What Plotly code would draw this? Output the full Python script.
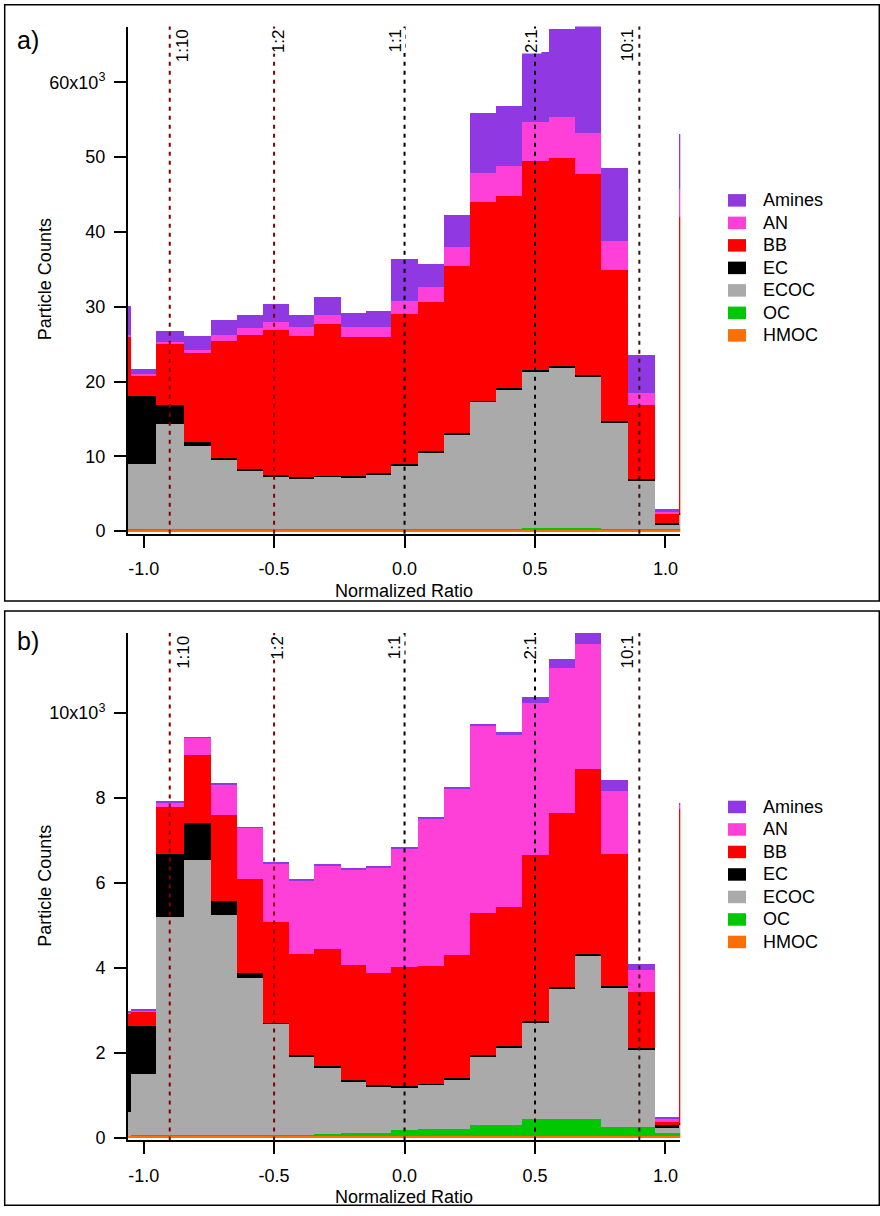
import plotly.graph_objects as go

W, H = 880, 1216
FONT = "Liberation Sans, Arial, Helvetica, sans-serif"

# ---------------- data (counts in units of 10^3) ----------------
# histogram bin edges of the normalized ratio (narrow edge slivers at both ends)
bin_edges = [-1.06, -1.048, -0.951, -0.845, -0.742, -0.641, -0.541, -0.443, -0.348,
             -0.244, -0.148, -0.051, 0.050, 0.152, 0.252, 0.352, 0.452, 0.552,
             0.652, 0.752, 0.858, 0.960, 1.053, 1.057]

species = ["HMOC", "OC", "ECOC", "EC", "BB", "AN", "Amines"]   # stacking order (bottom -> top)

# panel a)
hmoc_a = [0.25, 0.25, 0.25, 0.25, 0.25, 0.25, 0.25, 0.25, 0.25, 0.25, 0.25, 0.25, 0.25,
          0.25, 0.25, 0.25, 0.25, 0.25, 0.25, 0.25, 0.25, 0.25, 0.25]
oc_a = [0.05, 0.05, 0.05, 0.05, 0.05, 0.05, 0.05, 0.05, 0.05, 0.05, 0.05, 0.05, 0.05,
        0.05, 0.10, 0.10, 0.20, 0.20, 0.20, 0.10, 0.10, 0.10, 0.10]
ecoc_a = [8.70, 8.73, 14.04, 11.12, 9.35, 7.94, 7.10, 6.83, 7.06, 6.92, 7.36, 8.60, 10.28,
          12.70, 17.01, 18.65, 21.02, 21.51, 20.35, 14.22, 6.52, 0.67, 2.00]
ec_a = [9.10, 9.08, 2.58, 0.63, 0.23, 0.18, 0.22, 0.13, 0.13, 0.18, 0.18, 0.18, 0.18,
        0.20, 0.17, 0.18, 0.18, 0.18, 0.18, 0.17, 0.17, 0.18, 0.10]
bb_a = [7.90, 2.74, 8.18, 11.85, 15.62, 17.83, 19.30, 18.90, 20.23, 18.60, 18.16, 19.96, 19.88,
        22.30, 26.52, 25.67, 27.85, 27.76, 26.82, 20.19, 9.83, 1.19, 39.60]
an_a = [0.30, 0.23, 0.23, 0.40, 0.75, 1.02, 1.10, 1.16, 1.18, 1.40, 1.40, 1.86, 2.12,
        2.57, 3.85, 4.09, 5.30, 5.58, 5.50, 3.97, 1.68, 0.36, 3.80]
amines_a = [3.80, 0.66, 1.55, 1.90, 2.09, 1.63, 2.35, 1.68, 2.53, 1.78, 2.13, 5.58, 3.06,
            4.23, 8.10, 7.96, 9.34, 11.68, 14.26, 9.67, 5.05, 0.22, 7.30]

# panel b)
hmoc_b = [0.05, 0.05, 0.05, 0.05, 0.05, 0.05, 0.05, 0.05, 0.05, 0.05, 0.05, 0.05, 0.05,
          0.05, 0.05, 0.05, 0.05, 0.05, 0.05, 0.05, 0.05, 0.05, 0.05]
oc_b = [0.00, 0.02, 0.01, 0.01, 0.01, 0.01, 0.01, 0.02, 0.03, 0.07, 0.07, 0.13, 0.15,
        0.15, 0.24, 0.24, 0.39, 0.39, 0.39, 0.21, 0.19, 0.05, 0.05]
ecoc_b = [0.55, 1.42, 5.13, 6.47, 5.19, 3.71, 2.62, 1.84, 1.58, 1.21, 1.08, 1.00, 1.04,
          1.17, 1.62, 1.83, 2.26, 3.07, 3.85, 3.27, 1.83, 0.13, 0.20]
ec_b = [2.02, 1.13, 1.48, 0.87, 0.32, 0.11, 0.03, 0.03, 0.03, 0.03, 0.03, 0.03, 0.03,
        0.03, 0.03, 0.03, 0.04, 0.04, 0.04, 0.05, 0.03, 0.07, 0.05]
bb_b = [0.31, 0.36, 1.11, 1.61, 2.02, 2.21, 2.37, 2.39, 2.74, 2.70, 2.64, 2.80, 2.77,
        2.91, 3.36, 3.27, 3.92, 4.09, 4.36, 3.09, 1.32, 0.07, 7.38]
an_b = [0.02, 0.02, 0.12, 0.40, 0.73, 1.20, 1.38, 1.72, 1.98, 2.26, 2.48, 2.80, 3.46,
        3.92, 4.39, 4.07, 3.58, 3.42, 2.92, 1.48, 0.52, 0.07, 0.11]
amines_b = [0.02, 0.02, 0.03, 0.02, 0.02, 0.02, 0.03, 0.03, 0.03, 0.03, 0.03, 0.03, 0.05,
            0.03, 0.05, 0.07, 0.14, 0.21, 0.29, 0.28, 0.16, 0.03, 0.04]

ratio_pos = [-0.9, -0.5, 0.0, 0.5, 0.9]
ratio_labels = ["1:10", "1:2", "1:1", "2:1", "10:1"]

xtick_vals = [-1.0, -0.5, 0.0, 0.5, 1.0]
xtick_text = ["-1.0", "-0.5", "0.0", "0.5", "1.0"]
ytick_vals_a = [0, 10, 20, 30, 40, 50, 60]
ytick_text_a = ["0", "10", "20", "30", "40", "50", "60x10<sup>3</sup>"]
ytick_vals_b = [0, 2, 4, 6, 8, 10]
ytick_text_b = ["0", "2", "4", "6", "8", "10x10<sup>3</sup>"]

# ---------------- styles ----------------
colors = {"HMOC": "#FF6F00", "OC": "#00C800", "ECOC": "#AAAAAA", "EC": "#000000",
          "BB": "#FF0000", "AN": "#FF40D8", "Amines": "#9038E2"}
line_colors = ["#800000", "#800000", "#000000", "#000000", "#3C1212"]
label_shift = [13, 4, -10, -4, -12]


def py(p):
    return 1 - p / H


def pxx(p):
    return p / W


centers = [(a + b) / 2 for a, b in zip(bin_edges[:-1], bin_edges[1:])]
widths = [b - a for a, b in zip(bin_edges[:-1], bin_edges[1:])]

panels = [
    dict(x="x", y="y", data=dict(HMOC=hmoc_a, OC=oc_a, ECOC=ecoc_a, EC=ec_a, BB=bb_a, AN=an_a, Amines=amines_a),
         top=26.7, bottom=537.3, yr=[-0.345, 67.46], tv=ytick_vals_a, tt=ytick_text_a,
         label="a)", frame=(4.7, 605.0), legend_top=201.7, title_y=594.5, lab_y=40.5),
    dict(x="x2", y="y2", data=dict(HMOC=hmoc_b, OC=oc_b, ECOC=ecoc_b, EC=ec_b, BB=bb_b, AN=an_b, Amines=amines_b),
         top=637.3, bottom=1148.0, yr=[-0.063, 11.88], tv=ytick_vals_b, tt=ytick_text_b,
         label="b)", frame=(615.0, 1213.3), legend_top=812.3, title_y=1205.0, lab_y=645.5),
]

fig = go.Figure()
shapes = []
annotations = []

for p in panels:
    for sp in species:
        fig.add_trace(go.Bar(x=centers, y=p["data"][sp], width=widths, name=sp,
                             marker=dict(color=colors[sp], line=dict(width=0)),
                             xaxis=p["x"], yaxis=p["y"], showlegend=False))
    # reference ratio lines
    for xv, lab, lc, sh in zip(ratio_pos, ratio_labels, line_colors, label_shift):
        shapes.append(dict(type="line", xref=p["x"], yref=p["y"] + " domain", x0=xv, x1=xv, y0=0, y1=1,
                           line=dict(color=lc, width=2, dash="4px,5px"), layer="above"))
        annotations.append(dict(text=lab, xref=p["x"], yref=p["y"] + " domain", x=xv, y=1,
                                xanchor="center", yanchor="top", xshift=sh, yshift=-1.5,
                                textangle=-90, showarrow=False, bgcolor="white", borderpad=0,
                                font=dict(family=FONT, size=17, color="black")))
    # frame around the panel
    f0, f1 = p["frame"]
    shapes.append(dict(type="rect", xref="paper", yref="paper", x0=pxx(4.7), x1=pxx(879.3),
                       y0=py(f1), y1=py(f0), line=dict(color="black", width=1.5), layer="above"))
    # panel label
    annotations.append(dict(text=p["label"], xref="paper", yref="paper", x=pxx(15), y=py(p["lab_y"]),
                            xanchor="left", yanchor="middle", showarrow=False,
                            font=dict(family=FONT, size=25, color="black")))
    # axis titles
    annotations.append(dict(text="Particle Counts", xref="paper", yref="paper", x=pxx(45),
                            y=py((p["top"] + p["bottom"]) / 2 - 1), textangle=-90, showarrow=False,
                            xanchor="center", yanchor="middle",
                            font=dict(family=FONT, size=18, color="black")))
    annotations.append(dict(text="Normalized Ratio", xref="paper", yref="paper", x=pxx(404.3),
                            y=py(p["title_y"]), showarrow=False, xanchor="center", yanchor="middle",
                            font=dict(family=FONT, size=18, color="black")))
    # legend
    for i, sp in enumerate(reversed(species)):
        yc = p["legend_top"] + i * 22.65
        shapes.append(dict(type="rect", xref="paper", yref="paper", x0=pxx(728), x1=pxx(746),
                           y0=py(yc + 6.3), y1=py(yc - 6.3), fillcolor=colors[sp], line=dict(width=0)))
        annotations.append(dict(text=sp, xref="paper", yref="paper", x=pxx(761), y=py(yc),
                                xanchor="left", yanchor="middle", showarrow=False,
                                font=dict(family=FONT, size=18, color="black")))

axis_common = dict(showline=True, linecolor="black", linewidth=2, ticks="outside", ticklen=12,
                   tickwidth=2, tickcolor="black", showgrid=False, zeroline=False,
                   tickfont=dict(family=FONT, size=18, color="black"))

layout = dict(
    width=W, height=H, margin=dict(l=0, r=0, t=0, b=0),
    paper_bgcolor="white", plot_bgcolor="white", barmode="stack", bargap=0,
    showlegend=False, shapes=shapes, annotations=annotations,
    font=dict(family=FONT, size=18, color="black"),
)
for p, xa, ya in [(panels[0], "xaxis", "yaxis"), (panels[1], "xaxis2", "yaxis2")]:
    layout[xa] = dict(axis_common, domain=[pxx(128), pxx(680.3)], range=[-1.06, 1.057],
                      anchor=p["y"], tickvals=xtick_vals, ticktext=xtick_text, ticklabelstandoff=6)
    layout[ya] = dict(axis_common, domain=[py(p["bottom"]), py(p["top"])], range=p["yr"],
                      anchor=p["x"], tickvals=p["tv"], ticktext=p["tt"], ticklabelstandoff=5)

fig.update_layout(**layout)
fig.write_html("out.html")
